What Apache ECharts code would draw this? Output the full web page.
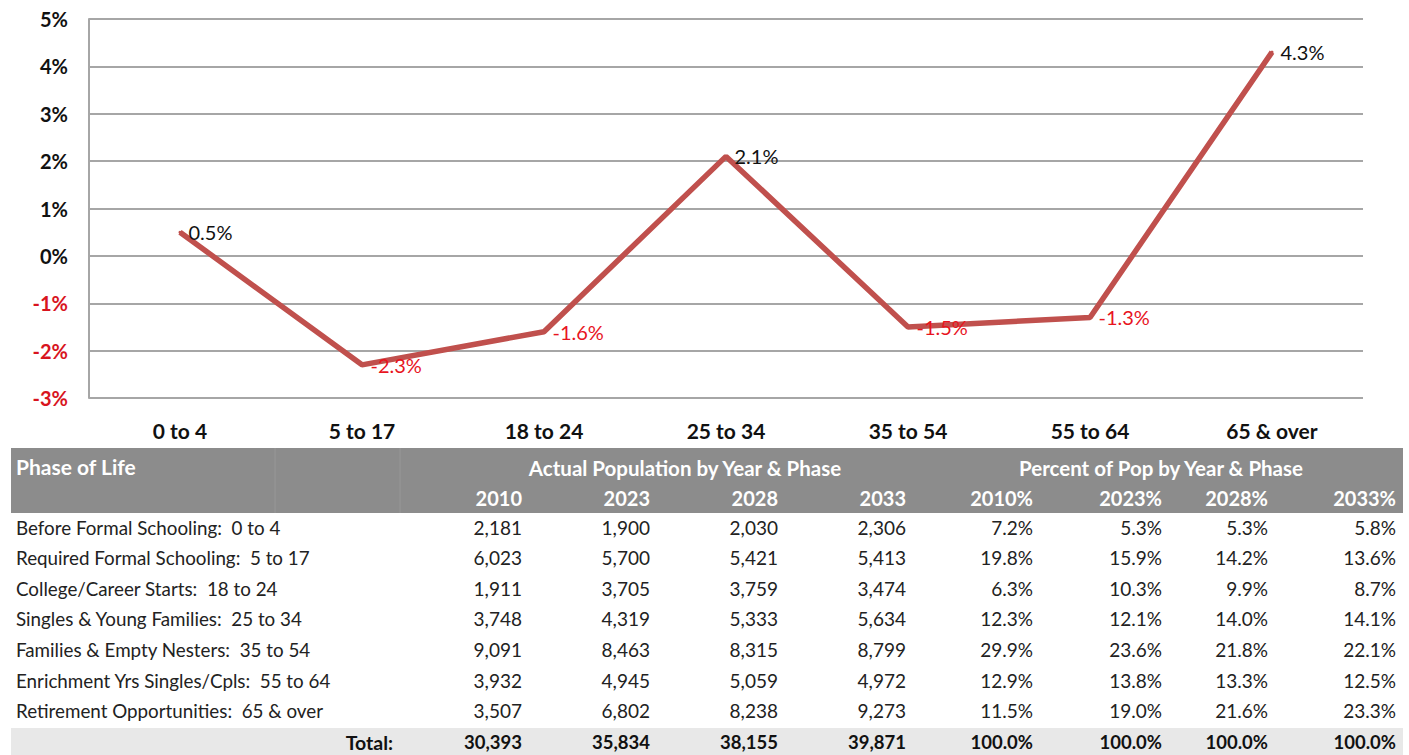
<!DOCTYPE html>
<html><head><meta charset="utf-8">
<script src="https://cdn.jsdelivr.net/npm/echarts@6/dist/echarts.min.js"></script>
<style>html,body{margin:0;padding:0;background:#fff;} #c{width:1409px;height:755px;}</style>
</head><body><div id="c"></div>
<script>
const categories = ['0 to 4','5 to 17','18 to 24','25 to 34','35 to 54','55 to 64','65 & over'];
const changeValues = [0.5,-2.3,-1.6,2.1,-1.5,-1.3,4.3];
const yMin = -3, yMax = 5, yInterval = 1;

const phaseLabels = [
  'Before Formal Schooling:  0 to 4',
  'Required Formal Schooling:  5 to 17',
  'College/Career Starts:  18 to 24',
  'Singles & Young Families:  25 to 34',
  'Families & Empty Nesters:  35 to 54',
  'Enrichment Yrs Singles/Cpls:  55 to 64',
  'Retirement Opportunities:  65 & over'
];
const tableTitle = 'Phase of Life';
const popGroupTitle = 'Actual Population by Year & Phase';
const pctGroupTitle = 'Percent of Pop by Year & Phase';
const yearHeaders = ['2010','2023','2028','2033'];
const pctHeaders = ['2010%','2023%','2028%','2033%'];
const pop2010 = [2181,6023,1911,3748,9091,3932,3507];
const pop2023 = [1900,5700,3705,4319,8463,4945,6802];
const pop2028 = [2030,5421,3759,5333,8315,5059,8238];
const pop2033 = [2306,5413,3474,5634,8799,4972,9273];
const popTotals = [30393,35834,38155,39871];
const pct2010 = [7.2,19.8,6.3,12.3,29.9,12.9,11.5];
const pct2023 = [5.3,15.9,10.3,12.1,23.6,13.8,19.0];
const pct2028 = [5.3,14.2,9.9,14.0,21.8,13.3,21.6];
const pct2033 = [5.8,13.6,8.7,14.1,22.1,12.5,23.3];
const pctTotals = [100.0,100.0,100.0,100.0];
const totalLabel = 'Total:';

const FONT = 'Lato, "Open Sans", sans-serif';
const RED = '#e8141e';
const AXRED = '#d8141e';
const LINE = '#c0504d';

const chart = echarts.init(document.getElementById('c'), null, {renderer:'svg'});

const fmtInt = v => v.toLocaleString('en-US');
const fmtPct = v => v.toFixed(1) + '%';

// table geometry
const colRight = [522,650,778,906,1033,1162,1268,1396];
const rowY = [527,557,588,618,649,680,710];
const totalY = 742;
const g = [];
function txt(text, x, y, align, font, fill){
  g.push({type:'text', x:x, y:y, silent:true, style:{text:text, font:font, fill:fill,
    align:align, verticalAlign:'middle', textAlign:align, textVerticalAlign:'middle'}});
}
g.push({type:'rect', shape:{x:11,y:448,width:1392,height:65}, style:{fill:'#8c8c8c'}, silent:true});
g.push({type:'rect', shape:{x:11,y:728,width:1392,height:27}, style:{fill:'#e8e8e8'}, silent:true});
[275,400].forEach(x=>g.push({type:'line', shape:{x1:x,y1:448,x2:x,y2:513}, style:{stroke:'#979797',lineWidth:1}, silent:true}));

const hFont = 'bold 20.5px ' + FONT;
const yFont = 'bold 20px ' + FONT;
const cFont = '19px ' + FONT;
const bFont = 'bold 18.5px ' + FONT;
txt(tableTitle, 16, 466, 'left', 'bold 21px ' + FONT, '#fff');
txt(popGroupTitle, 685, 468, 'center', hFont, '#fff');
txt(pctGroupTitle, 1161, 468, 'center', hFont, '#fff');
yearHeaders.concat(pctHeaders).forEach((h,i)=>txt(h, colRight[i], 498, 'right', yFont, '#fff'));

const popCols = [pop2010,pop2023,pop2028,pop2033];
const pctCols = [pct2010,pct2023,pct2028,pct2033];
phaseLabels.forEach((lab,r)=>{
  txt(lab, 16, rowY[r], 'left', '18.8px ' + FONT, '#222');
  popCols.forEach((col,i)=>txt(fmtInt(col[r]), colRight[i], rowY[r], 'right', cFont, '#222'));
  pctCols.forEach((col,i)=>txt(fmtPct(col[r]), colRight[4+i], rowY[r], 'right', cFont, '#222'));
});
txt(totalLabel, 393, totalY, 'right', 'bold 19.5px ' + FONT, '#111');
popTotals.forEach((v,i)=>txt(fmtInt(v), colRight[i], totalY, 'right', bFont, '#111'));
pctTotals.forEach((v,i)=>txt(fmtPct(v), colRight[4+i], totalY, 'right', bFont, '#111'));

chart.setOption({
  backgroundColor:'#fff',
  animation:false,
  grid:{left:89, right:46, top:19, bottom:357, containLabel:false},
  xAxis:{
    type:'category', data:categories, boundaryGap:true,
    axisLine:{show:false}, axisTick:{show:false},
    axisLabel:{fontFamily:FONT, fontWeight:'bold', fontSize:21, color:'#111', margin:22}
  },
  yAxis:{
    type:'value', min:yMin, max:yMax, interval:yInterval,
    axisLine:{show:true, lineStyle:{color:'#a6a6a6', width:2}},
    axisTick:{show:false},
    splitLine:{show:true, lineStyle:{color:'#a6a6a6', width:2}},
    axisLabel:{fontFamily:FONT, fontWeight:'bold', fontSize:20, margin:21,
      formatter:v=>v+'%', color:v=>(v<0?AXRED:'#111')}
  },
  series:[{
    type:'line',
    data:changeValues.map(v=>({value:v, label:{color: v<0?RED:'#111'}})),
    symbol:'circle', symbolSize:3,
    itemStyle:{color:LINE},
    lineStyle:{color:LINE, width:5.5},
    label:{show:true, position:'right', distance:7, fontFamily:FONT, fontSize:20,
      formatter:p=>p.value.toFixed(1)+'%'}
  }],
  graphic:{elements:g}
});
</script></body></html>
